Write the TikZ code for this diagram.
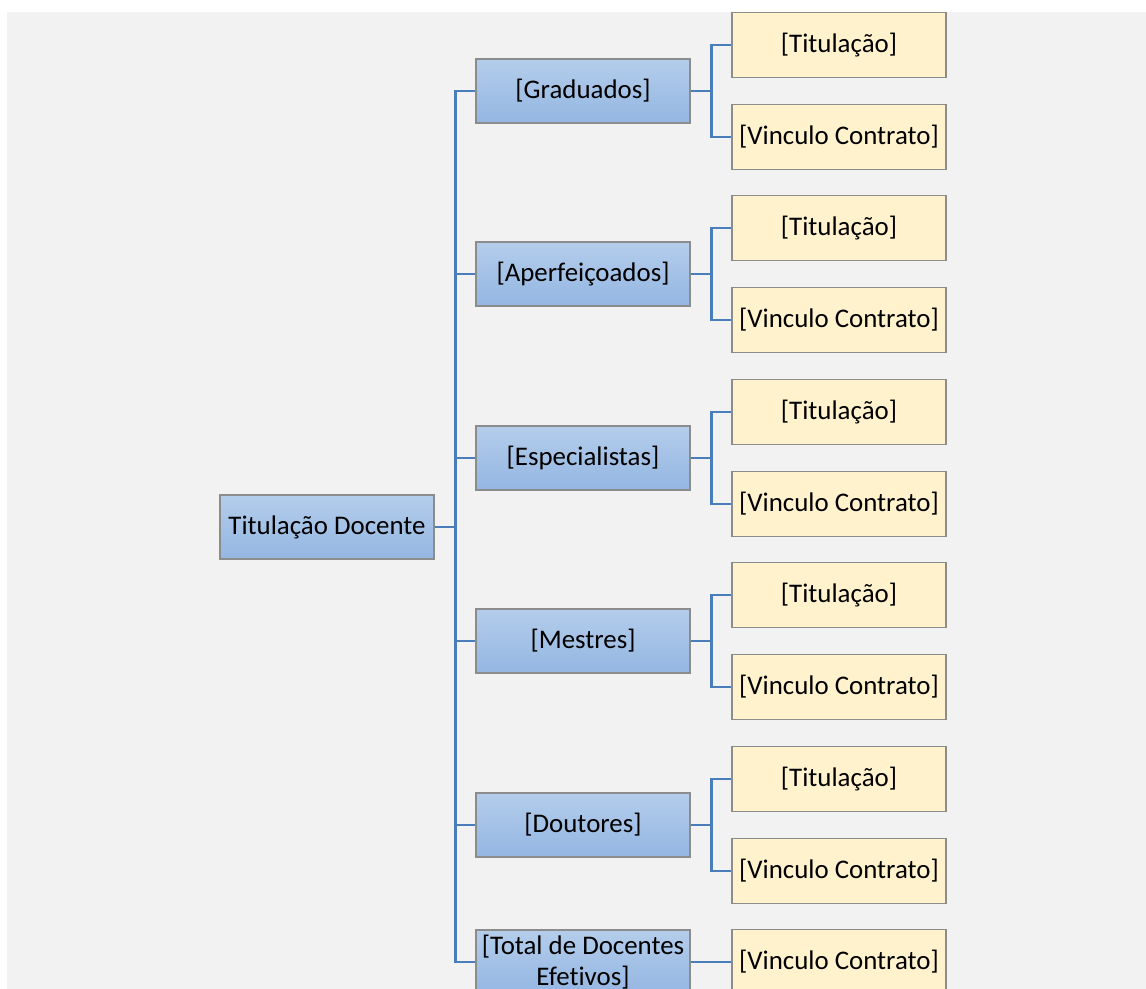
\documentclass[tikz,border=0pt]{standalone}
\usepackage{fontspec}
\setmainfont{Carlito}[Ligatures=NoCommon]
\definecolor{bggray}{HTML}{F2F2F2}
\definecolor{boxtop}{HTML}{B4CDEB}
\definecolor{boxbot}{HTML}{94B6E2}
\definecolor{leafyel}{HTML}{FFF2CC}
\definecolor{rimgray}{HTML}{8C8C8C}
\definecolor{linkblue}{HTML}{4A7EBB}
\usetikzlibrary{positioning,calc}
\tikzset{
  bluebox/.style={draw=rimgray,line width=0.8pt,top color=boxtop,bottom color=boxbot,
    minimum width=4.28cm,minimum height=1.28cm,inner sep=1pt,align=center,
    font=\fontsize{15.3}{17.5}\selectfont},
  leafbox/.style={draw=rimgray,line width=0.8pt,fill=leafyel,
    minimum width=4.28cm,minimum height=1.3cm,inner sep=1pt,
    font=\fontsize{15.3}{17.5}\selectfont},
  link/.style={linkblue,line width=1.7pt},
}

\begin{document}
\begin{tikzpicture}[x=0.02cm,y=-0.02cm]
  \useasboundingbox (0,0) rectangle (1146,989);
  \fill[bggray] (7,12) rectangle (1146,989);
  \node[bluebox] (root) at (327,527) {Titulação Docente};
  % grupos: titulação e vínculo
  \foreach \nm/\txt/\yy in {grad/Graduados/91,aperf/Aperfeiçoados/274,
      espec/Especialistas/458,mest/Mestres/641,dout/Doutores/825}{
    \node[bluebox] (\nm) at (583,\yy) {[\txt]};
    \node[leafbox] (\nm-tit) at (839,{\yy-46}) {[Titulação]};
    \node[leafbox] (\nm-vin) at (839,{\yy+46}) {[Vinculo Contrato]};
    \draw[link] (root.east) -- ++(21,0) |- (\nm.west);
    \draw[link] (\nm.east) -- ++(21,0) |- (\nm-tit.west);
    \draw[link] (\nm.east) -- ++(21,0) |- (\nm-vin.west);
  }
  % total
  \node[bluebox] (total) at (583,962) {[Total de Docentes\\Efetivos]};
  \node[leafbox] (total-vin) at (839,962) {[Vinculo Contrato]};
  \draw[link] (root.east) -- ++(21,0) |- (total.west);
  \draw[link] (total) -- (total-vin);
\end{tikzpicture}
\end{document}
